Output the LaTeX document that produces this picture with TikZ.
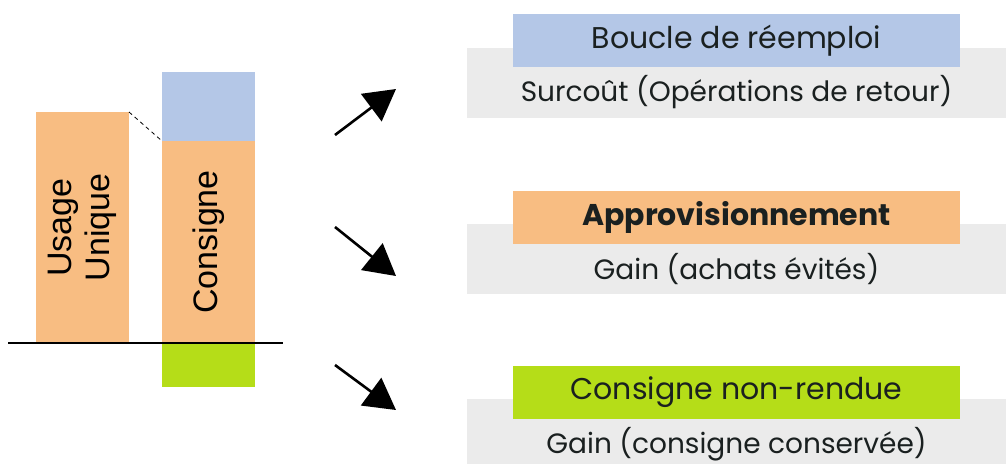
\documentclass[tikz,border=0pt]{standalone}
\usepackage{fontspec}
\setmainfont{Poppins}
\newfontfamily\arialf{Liberation Sans}
\usetikzlibrary{arrows.meta,calc}
\definecolor{cblue}{HTML}{B4C7E7}
\definecolor{corange}{HTML}{F8BD82}
\definecolor{cgreen}{HTML}{B5DD18}
\definecolor{cgrey}{HTML}{EBEBEB}
\definecolor{ctext}{HTML}{1A2020}
\tikzset{
  bar/.style={inner sep=0pt, outer sep=0pt, anchor=north west},
  bartext/.style={font=\arialf\fontsize{34}{38}\selectfont, rotate=90, align=center, text=black},
  bigarrow/.style={line width=2.6pt, -{Triangle[length=31pt,width=34pt]}},
  greybox/.style={fill=cgrey, inner sep=0pt, outer sep=0pt, minimum width=539pt, minimum height=70pt, anchor=north west},
  headbox/.style={inner sep=0pt, outer sep=0pt, minimum width=447pt, minimum height=53pt, anchor=north west, text=ctext, font=\fontsize{30}{33}\selectfont},
  subtext/.style={text=ctext, font=\fontsize{28}{31}\selectfont}
}
\begin{document}
\begin{tikzpicture}[x=1pt,y=-1pt]
\useasboundingbox (0,0) rectangle (1006,463);
% left bars
\node[bar, fill=corange, minimum width=93pt, minimum height=231pt] (uu) at (36,112) {};
\node[bartext] (uut) at (uu.center) {Usage\\Unique};
\node[bar, fill=cblue, minimum width=93pt, minimum height=69pt] (cb) at (162,72) {};
\node[bar, fill=corange, minimum width=93pt, minimum height=202pt] (co) at (162,141) {};
\node[bartext] (cot) at (co.center) {Consigne};
\node[bar, fill=cgreen, minimum width=93pt, minimum height=44pt] (cg) at (162,343) {};
\draw[line width=0.8pt, dash pattern=on 4pt off 3.5pt] (uu.north east) -- (co.north west);
\coordinate (axl) at (8,343);
\coordinate (axr) at (283,343);
\draw[line width=2pt] (axl) -- (axr);
% arrows
\coordinate (a1s) at (335,135);
\coordinate (a1e) at (396,89);
\coordinate (a2s) at (335,227);
\coordinate (a2e) at (396,276);
\coordinate (a3s) at (335,365);
\coordinate (a3e) at (396,410);
\draw[bigarrow] (a1s) -- (a1e);
\draw[bigarrow] (a2s) -- (a2e);
\draw[bigarrow] (a3s) -- (a3e);
% right boxes
\node[greybox] (g1) at (467,48) {};
\node[headbox, fill=cblue] (h1) at (513,14) {Boucle de réemploi};
\node[subtext] (s1) at ($(h1.south)!0.5!(g1.south)$) {Surcoût (Opérations de retour)};
\node[greybox] (g2) at (467,224) {};
\node[headbox, fill=corange, font=\bfseries\fontsize{30}{33}\selectfont] (h2) at (513,191) {Approvisionnement};
\node[subtext] (s2) at ($(h2.south)!0.5!(g2.south)$) {Gain (achats évités)};
\node[greybox] (g3) at (467,399) {};
\node[headbox, fill=cgreen] (h3) at (513,366) {Consigne non-rendue};
\node[subtext] (s3) at ($(h3.south)!0.5!(g3.south)$) {Gain (consigne conservée)};
\end{tikzpicture}
\end{document}
